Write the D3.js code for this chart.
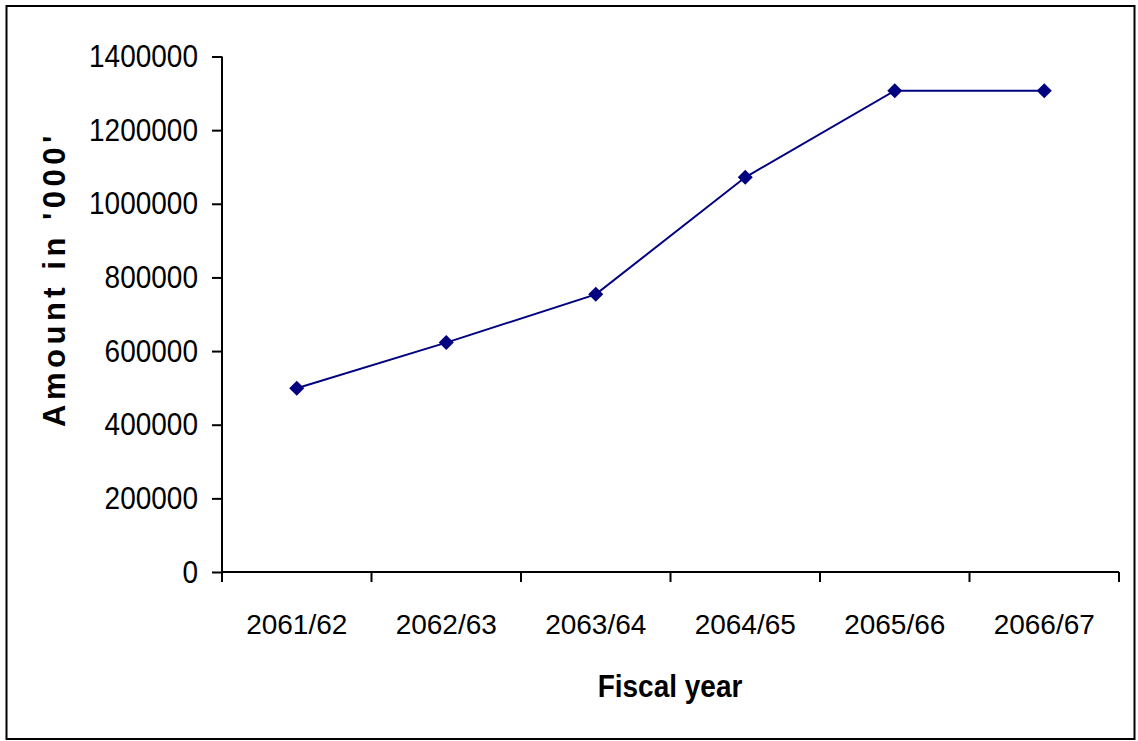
<!DOCTYPE html>
<html>
<head>
<meta charset="utf-8">
<script src="https://cdn.jsdelivr.net/npm/d3@7"></script>
<style>
  html, body { margin: 0; padding: 0; background: #fff; }
  svg { display: block; }
  text { font-family: "Liberation Sans", Arial, sans-serif; fill: #000; }
</style>
</head>
<body>
<svg id="chart" width="1138" height="741"></svg>
<script>
// Amount per fiscal year (in '000)
const fiscalYears = ["2061/62", "2062/63", "2063/64", "2064/65", "2065/66", "2066/67"];
const amounts = [499000, 623000, 754000, 1072000, 1307000, 1307000];
const yTicks = [0, 200000, 400000, 600000, 800000, 1000000, 1200000, 1400000];

const svg = d3.select("#chart");
const plot = { left: 222, right: 1119, top: 56.5, bottom: 572 };

// outer frame
svg.append("rect")
  .attr("x", 6.5).attr("y", 6).attr("width", 1128).attr("height", 733)
  .attr("fill", "#fff").attr("stroke", "#000").attr("stroke-width", 2);

const x = d3.scaleBand().domain(fiscalYears).range([plot.left, plot.right]).padding(0);
const y = d3.scaleLinear().domain([0, 1400000]).range([plot.bottom, plot.top]);

// y axis
const yAxis = svg.append("g")
  .attr("transform", `translate(${plot.left},0)`)
  .call(d3.axisLeft(y).tickValues(yTicks).tickFormat(d3.format("d")).tickSize(10).tickPadding(14));
yAxis.select(".domain").attr("stroke", "#000").attr("stroke-width", 2).attr("d", `M0,${plot.top}V${plot.bottom}`);
yAxis.selectAll(".tick line").attr("stroke", "#000").attr("stroke-width", 2);
yAxis.selectAll(".tick text")
  .attr("font-size", 28)
  .attr("font-family", "Liberation Sans, Arial, sans-serif")
  .attr("fill", "#000")
  .attr("transform", "scale(1,1.12)");

// x axis: ticks at band boundaries, labels centred in each band
const xAxisG = svg.append("g").attr("transform", `translate(0,${plot.bottom})`);
xAxisG.append("line")
  .attr("x1", plot.left).attr("x2", plot.right)
  .attr("stroke", "#000").attr("stroke-width", 2);
const boundaries = fiscalYears.map(d => x(d)).concat([x(fiscalYears[fiscalYears.length - 1]) + x.bandwidth()]);
xAxisG.selectAll("line.tk").data(boundaries).enter().append("line")
  .attr("class", "tk")
  .attr("x1", d => d).attr("x2", d => d).attr("y1", 0).attr("y2", 10)
  .attr("stroke", "#000").attr("stroke-width", 2);
xAxisG.selectAll("text.lbl").data(fiscalYears).enter().append("text")
  .attr("class", "lbl")
  .attr("x", d => x(d) + x.bandwidth() / 2)
  .attr("y", 62)
  .attr("text-anchor", "middle")
  .attr("font-size", 28)
  .text(d => d);

// axis titles
svg.append("text")
  .attr("transform", "translate(670,697) scale(1,1.1)")
  .attr("text-anchor", "middle")
  .attr("font-size", 28).attr("font-weight", "bold")
  .text("Fiscal year");
svg.append("text")
  .attr("transform", "translate(65,279) rotate(-90)")
  .attr("text-anchor", "middle")
  .attr("font-size", 31).attr("font-weight", "bold")
  .attr("letter-spacing", 4.5)
  .text("Amount in '000'");

// series line
const pts = fiscalYears.map((d, i) => [x(d) + x.bandwidth() / 2, y(amounts[i])]);
svg.append("path")
  .datum(pts)
  .attr("fill", "none")
  .attr("stroke", "#000080")
  .attr("stroke-width", 2)
  .attr("d", d3.line());

// diamond markers
svg.selectAll("path.marker").data(pts).enter().append("path")
  .attr("class", "marker")
  .attr("transform", d => `translate(${d[0]},${d[1]})`)
  .attr("d", "M0,-7.5L7.5,0L0,7.5L-7.5,0Z")
  .attr("fill", "#000080");
</script>
</body>
</html>
